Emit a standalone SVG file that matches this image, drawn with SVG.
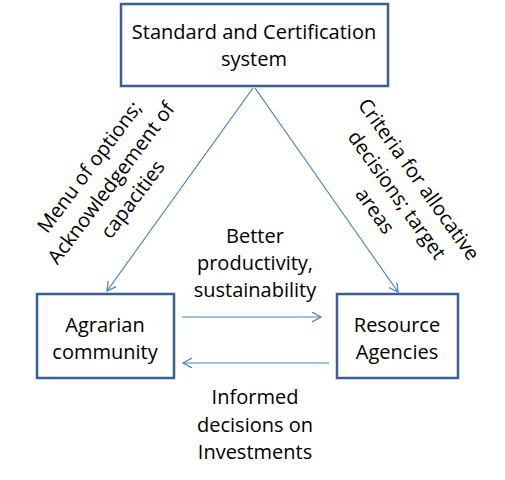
<svg xmlns="http://www.w3.org/2000/svg" width="505" height="480" viewBox="0 0 505 480">
<style>
text{font-family:"Open Sans","Liberation Sans",sans-serif;font-size:20px;fill:#000;text-anchor:middle}
.box{fill:#fff;stroke:#3B5F8E;stroke-width:2.5}
.ln{stroke:#4A7EBB;stroke-width:1.2;fill:none}
</style>
<defs>
<marker id="ah" markerUnits="userSpaceOnUse" markerWidth="12" markerHeight="12" refX="9" refY="5" orient="auto">
<path d="M0,0 L9,5 L0,10" fill="none" stroke="#4A7EBB" stroke-width="1.2"/>
</marker>
</defs>
<rect width="505" height="480" fill="#fff"/>
<g id="connectors">
<line class="ln" x1="253" y1="88" x2="107" y2="291" marker-end="url(#ah)"/>
<line class="ln" x1="255" y1="88" x2="398" y2="292" marker-end="url(#ah)"/>
<line class="ln" x1="182" y1="317" x2="321" y2="317" marker-end="url(#ah)"/>
<line class="ln" x1="329" y1="363" x2="183" y2="363" marker-end="url(#ah)"/>
</g>
<g id="standard">
<rect class="box" x="121" y="4" width="267" height="82"/>
<text x="254" y="39">Standard and Certification</text>
<text x="254" y="66">system</text>
</g>
<g id="agrarian">
<rect class="box" x="37" y="294" width="137" height="84"/>
<text x="105" y="332">Agrarian</text>
<text x="105" y="359">community</text>
</g>
<g id="resource">
<rect class="box" x="337" y="294" width="121" height="84"/>
<text x="397" y="332">Resource</text>
<text x="397" y="359">Agencies</text>
</g>
<g id="labels">
<text x="255" y="243">Better</text>
<text x="255" y="270">productivity,</text>
<text x="255" y="297">sustainability</text>
<text x="255" y="404">Informed</text>
<text x="255" y="432">decisions on</text>
<text x="255" y="459">Investments</text>
<g transform="translate(111,183) rotate(-53)">
<text x="0" y="-20">Menu of options;</text>
<text x="0" y="7">Acknowledgement of</text>
<text x="0" y="34">capacities</text>
</g>
<g transform="translate(397,195) rotate(54.5)">
<text x="0" y="-20">Criteria for allocative</text>
<text x="0" y="7">decisions; target</text>
<text x="0" y="34">areas</text>
</g>
</g>
</svg>
